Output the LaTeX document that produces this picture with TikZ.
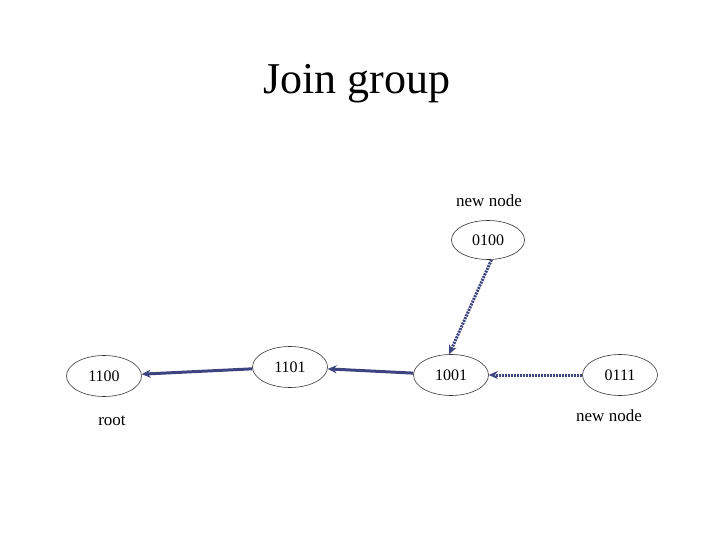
\documentclass[tikz,border=0pt]{standalone}
\usepackage{fontspec}
\setmainfont{Liberation Serif}
\usetikzlibrary{arrows.meta}
\definecolor{edgeblue}{RGB}{62,68,128}
\tikzset{
  ell/.style={draw=black!80, line width=0.6pt, ellipse, minimum width=75pt, minimum height=41pt, inner sep=0pt, font=\fontsize{16}{18}\selectfont},
  lbl/.style={font=\fontsize{17}{19}\selectfont, inner sep=0pt},
  edge/.style={draw=edgeblue, line width=3pt, -{Stealth[length=9pt,width=8pt]}},
  dotedge/.style={edge, dash pattern=on 2pt off 1pt},
}
\usetikzlibrary{shapes.geometric}
\begin{document}
\begin{tikzpicture}[x=1pt,y=-1pt]
\useasboundingbox (0,0) rectangle (720,540);
\node[font=\fontsize{44}{48}\selectfont, inner sep=0pt] (title) at (357,84) {Join group};
\node[ell] (n1100) at (104,376) {1100};
\node[ell] (n1101) at (290,367) {1101};
\node[ell] (n1001) at (451,375) {1001};
\node[ell] (n0111) at (620,375) {0111};
\node[ell, minimum width=73pt, minimum height=39pt] (n0100) at (488,240) {0100};
\node[lbl] (t1) at (489,201) {new node};
\node[lbl] (t2) at (112,421) {root};
\node[lbl] (t3) at (609,416) {new node};
\draw[edge] (n1101) -- (n1100);
\draw[edge] (n1001) -- (n1101);
\draw[dotedge] (n0111) -- (n1001);
\draw[dotedge] (n0100.-80) -- (n1001.95);
\end{tikzpicture}
\end{document}
